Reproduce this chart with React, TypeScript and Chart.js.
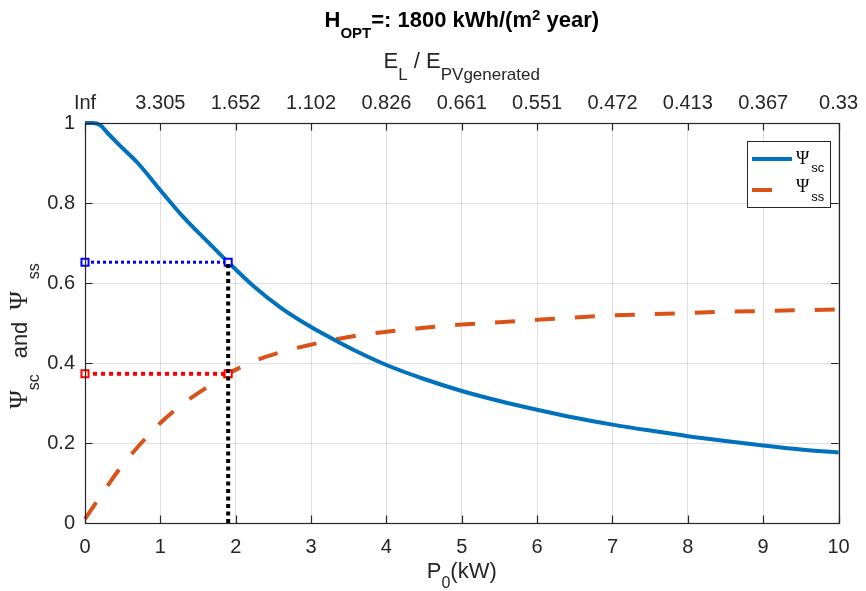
import React, { useEffect, useRef } from "react";
import { Chart, registerables } from "chart.js";
Chart.register(...registerables);

// ---- data ----
const p0Values = [0, 0.1, 0.2, 0.3, 0.45, 0.7, 1, 1.3, 1.65, 1.9, 2.25, 2.6, 3, 3.3, 3.65, 4, 4.5, 5, 5.5, 6, 6.5, 7, 7.5, 8, 8.5, 9, 9.5, 10];
const psiSc = [1.0, 1.0, 0.995, 0.975, 0.946, 0.9, 0.832, 0.766, 0.699, 0.652, 0.59, 0.538, 0.49, 0.459, 0.425, 0.395, 0.36, 0.33, 0.305, 0.283, 0.263, 0.246, 0.231, 0.217, 0.205, 0.194, 0.184, 0.176];
const psiSs = [0.01, 0.038, 0.066, 0.093, 0.133, 0.19, 0.25, 0.298, 0.343, 0.373, 0.405, 0.427, 0.446, 0.458, 0.47, 0.478, 0.488, 0.496, 0.502, 0.508, 0.514, 0.519, 0.522, 0.525, 0.528, 0.53, 0.532, 0.534];
const bottomTickLabels = ["0", "1", "2", "3", "4", "5", "6", "7", "8", "9", "10"];
const topTickLabels = ["Inf", "3.305", "1.652", "1.102", "0.826", "0.661", "0.551", "0.472", "0.413", "0.367", "0.33"];
const yTickLabels = ["0", "0.2", "0.4", "0.6", "0.8", "1"];
const optP0 = 1.9;
const optSc = 0.652;
const optSs = 0.373;

const FF = "'Liberation Sans', Arial, Helvetica, sans-serif";
const SERIF = "'Liberation Serif', 'DejaVu Serif', serif";
const AX = "#262626";
const BLUE = "#0072BD";
const ORANGE = "#D95319";

type Seg = { t: string; k?: "sub" | "sup"; f?: string; s?: number; gap?: number };

function drawRich(ctx: CanvasRenderingContext2D, segs: Seg[], x: number, y: number, size: number, bold: boolean, align: "center" | "left", subSize: number, subDy: number, supDy: number) {
  const font = (s: Seg) => `${bold ? "bold " : ""}${s.s ?? (s.k ? subSize : size)}px ${s.f ?? FF}`;
  const widths = segs.map((s) => {
    if (s.gap) return s.gap;
    ctx.font = font(s);
    return ctx.measureText(s.t).width;
  });
  const total = widths.reduce((a, b) => a + b, 0);
  let cx = align === "center" ? x - total / 2 : x;
  ctx.textAlign = "left";
  ctx.textBaseline = "alphabetic";
  segs.forEach((s, i) => {
    if (!s.gap) {
      ctx.font = font(s);
      const dy = s.k === "sub" ? subDy : s.k === "sup" ? supDy : 0;
      ctx.fillText(s.t, cx, y + dy);
    }
    cx += widths[i];
  });
}

const decorPlugin = {
  id: "decor",
  afterDraw(chart: any) {
    const ctx: CanvasRenderingContext2D = chart.ctx;
    const a = chart.chartArea;
    const xs = chart.scales.x;
    const ys = chart.scales.y;
    ctx.save();
    // box
    ctx.strokeStyle = AX;
    ctx.lineWidth = 1.2;
    ctx.strokeRect(Math.round(a.left) + 0.5, Math.round(a.top) + 0.5, Math.round(a.right - a.left), Math.round(a.bottom - a.top));
    // inward ticks
    const tl = 7.5;
    ctx.beginPath();
    bottomTickLabels.forEach((_, i) => {
      const px = Math.round(xs.getPixelForValue(i)) + 0.5;
      ctx.moveTo(px, a.bottom);
      ctx.lineTo(px, a.bottom - tl);
      ctx.moveTo(px, a.top);
      ctx.lineTo(px, a.top + tl);
    });
    yTickLabels.forEach((_, i) => {
      const py = Math.round(ys.getPixelForValue(i * 0.2)) + 0.5;
      ctx.moveTo(a.left, py);
      ctx.lineTo(a.left + tl, py);
      ctx.moveTo(a.right, py);
      ctx.lineTo(a.right - tl, py);
    });
    ctx.stroke();

    ctx.fillStyle = "#000";
    const cxm = (a.left + a.right) / 2;
    // title
    drawRich(ctx, [{ t: "H" }, { t: "OPT", k: "sub" }, { t: "=: 1800 kWh/(m" }, { t: "2", k: "sup" }, { t: " year)" }], cxm, 27, 22, true, "center", 15, 10.5, -7);
    // top axis label
    ctx.fillStyle = AX;
    drawRich(ctx, [{ t: "E" }, { t: "L", k: "sub" }, { t: " / E" }, { t: "PVgenerated", k: "sub" }], cxm, 68, 22, false, "center", 17, 11.5, 0);
    // bottom axis label
    drawRich(ctx, [{ t: "P" }, { t: "0", k: "sub" }, { t: "(kW)" }], cxm, 578, 22, false, "center", 16, 10, 0);
    // y label
    ctx.save();
    ctx.translate(27, 336);
    ctx.rotate(-Math.PI / 2);
    drawRich(
      ctx,
      [
        { t: "Ψ", f: SERIF, s: 25 },
        { t: "sc", k: "sub" },
        { t: "", gap: 16 },
        { t: "and" },
        { t: "", gap: 12 },
        { t: "Ψ", f: SERIF, s: 25 },
        { t: "", gap: 12 },
        { t: "ss", k: "sub" },
      ],
      0, 0, 22, false, "center", 16, 11.5, 0
    );
    ctx.restore();

    // legend
    ctx.fillStyle = "#fff";
    ctx.fillRect(747, 141, 83, 66);
    ctx.strokeStyle = AX;
    ctx.lineWidth = 1;
    ctx.strokeRect(747.5, 141.5, 83, 66);
    ctx.lineWidth = 4;
    ctx.strokeStyle = BLUE;
    ctx.beginPath();
    ctx.moveTo(752, 159);
    ctx.lineTo(792, 159);
    ctx.stroke();
    ctx.strokeStyle = ORANGE;
    ctx.beginPath();
    ctx.moveTo(752, 190);
    ctx.lineTo(772, 190);
    ctx.stroke();
    ctx.fillStyle = "#000";
    drawRich(ctx, [{ t: "Ψ", f: SERIF, s: 18 }, { t: "", gap: 2 }, { t: "sc", k: "sub" }], 796, 164, 16, false, "left", 13, 8, 0);
    drawRich(ctx, [{ t: "Ψ", f: SERIF, s: 18 }, { t: "", gap: 2 }, { t: "ss", k: "sub" }], 796, 192, 16, false, "left", 13, 9, 0);
    ctx.restore();
  },
};

export default function App() {
  const ref = useRef<HTMLCanvasElement | null>(null);
  useEffect(() => {
    if (!ref.current) return;
    const tickFont = { family: FF, size: 20 };
    const chart = new Chart(ref.current, {
      type: "line",
      data: {
        datasets: [
          {
            label: "black",
            data: [{ x: optP0, y: 0 }, { x: optP0, y: optSc }],
            borderColor: "#000",
            borderWidth: 4,
            borderDash: [4, 3.5],
            pointRadius: 0,
            order: 0,
            clip: false as any,
          },
          {
            label: "blueMark",
            data: [{ x: 0, y: optSc }, { x: optP0, y: optSc }],
            borderColor: "#0000FF",
            borderWidth: 3,
            borderDash: [3, 3],
            pointStyle: "rect",
            pointRadius: 5,
            pointBorderWidth: 2,
            pointBorderColor: "#0000FF",
            pointBackgroundColor: "#fff",
            order: 1,
            clip: false as any,
          },
          {
            label: "redMark",
            data: [{ x: 0, y: optSs }, { x: optP0, y: optSs }],
            borderColor: "#FF0000",
            borderWidth: 4,
            borderDash: [4, 4],
            pointStyle: "rect",
            pointRadius: 5,
            pointBorderWidth: 2,
            pointBorderColor: "#FF0000",
            pointBackgroundColor: "#fff",
            order: 1,
            clip: false as any,
          },
          {
            label: "Ψsc",
            data: p0Values.map((x, i) => ({ x, y: psiSc[i] })),
            borderColor: BLUE,
            borderWidth: 4,
            pointRadius: 0,
            cubicInterpolationMode: "monotone",
            order: 2,
            clip: false as any,
          },
          {
            label: "Ψss",
            data: p0Values.map((x, i) => ({ x, y: psiSs[i] })),
            borderColor: ORANGE,
            borderWidth: 4,
            borderDash: [20, 20],
            pointRadius: 0,
            cubicInterpolationMode: "monotone",
            order: 3,
            clip: false as any,
          },
        ],
      },
      options: {
        animation: false,
        responsive: true,
        maintainAspectRatio: false,
        layout: { padding: { left: 0, right: 21, top: 0, bottom: 0 } },
        plugins: { legend: { display: false }, tooltip: { enabled: false }, title: { display: false } },
        scales: {
          x: {
            type: "linear",
            position: "bottom",
            min: 0,
            max: 10,
            afterFit: (s: any) => { s.height = 68; },
            afterBuildTicks: (s: any) => { s.ticks = bottomTickLabels.map((_, i) => ({ value: i })); },
            ticks: { font: tickFont, color: AX, padding: 12, maxRotation: 0, autoSkip: false, callback: (v: any) => bottomTickLabels[Math.round(v)] },
            grid: { color: "rgba(38,38,38,0.15)", drawTicks: false },
            border: { display: false },
          },
          x2: {
            type: "linear",
            position: "top",
            min: 0,
            max: 10,
            afterFit: (s: any) => { s.height = 123; },
            afterBuildTicks: (s: any) => { s.ticks = topTickLabels.map((_, i) => ({ value: i })); },
            ticks: { font: tickFont, color: AX, padding: 8, maxRotation: 0, autoSkip: false, callback: (v: any) => topTickLabels[Math.round(v)] },
            grid: { drawOnChartArea: false, drawTicks: false },
            border: { display: false },
          },
          y: {
            type: "linear",
            position: "left",
            min: 0,
            max: 1,
            afterFit: (s: any) => { s.width = 85; },
            afterBuildTicks: (s: any) => { s.ticks = yTickLabels.map((_, i) => ({ value: i * 0.2 })); },
            ticks: { font: tickFont, color: AX, padding: 10, callback: (v: any) => yTickLabels[Math.round(v / 0.2)] },
            grid: { color: "rgba(38,38,38,0.15)", drawTicks: false },
            border: { display: false },
          },
        },
      } as any,
      plugins: [decorPlugin],
    });
    return () => chart.destroy();
  }, []);
  return (
    <div style={{ position: "absolute", left: 0, top: 0, width: 866, height: 591, background: "#fff" }}>
      <canvas ref={ref} />
    </div>
  );
}
